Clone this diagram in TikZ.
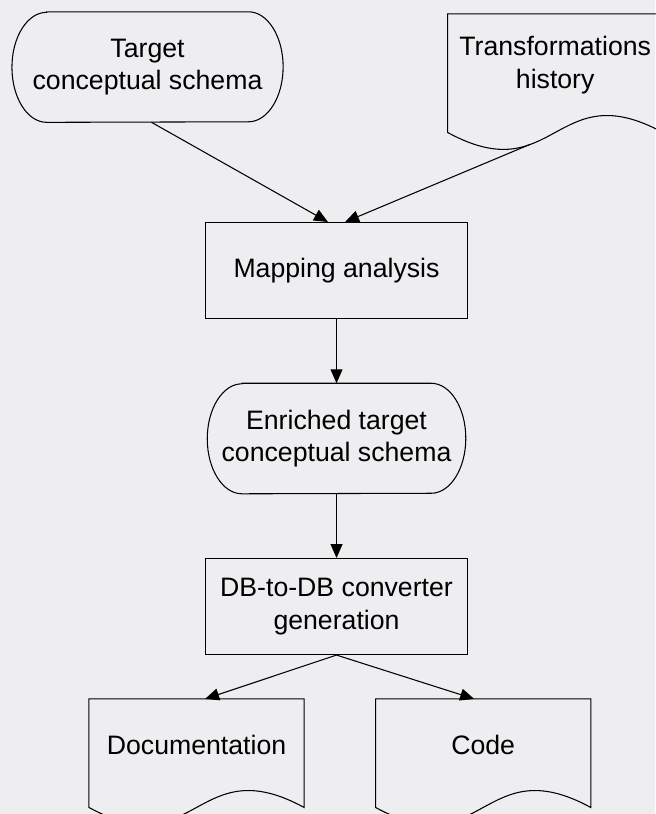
\documentclass[tikz,border=0pt]{standalone}
\usepackage{fontspec}
\setmainfont{Liberation Sans}
\usepackage{tikz}
\usetikzlibrary{arrows.meta}
\definecolor{paper}{RGB}{238,238,241}
\tikzstyle{process}  = [rectangle, minimum width=197pt, minimum height=72pt, align=center, draw=black, line width=0.8pt]
\tikzstyle{terminal} = [rectangle, minimum height=82.5pt, align=center]
\tikzstyle{document} = [rectangle, minimum width=161pt, minimum height=69pt, align=center]
\tikzstyle{arrow}    = [line width=0.8pt, ->, >={Triangle[length=10.5pt, width=9pt]}]
% outline of a terminal node, with elliptic ends
\newcommand{\stadiumframe}[1]{%
  \draw [line width=0.8pt] ([xshift=26pt]#1.north west) -- ([xshift=-26pt]#1.north east)
    arc [start angle=90, end angle=-90, x radius=26pt, y radius=41.25pt]
    -- ([xshift=26pt]#1.south west)
    arc [start angle=270, end angle=90, x radius=26pt, y radius=41.25pt] -- cycle;}
% outline of a document node, with wavy bottom
\newcommand{\docframe}[1]{%
  \draw [line width=0.8pt] (#1.north west) -- (#1.north east) -- ([yshift=-12pt]#1.south east)
    .. controls ([yshift=32pt]#1.south) and ([yshift=-56pt]#1.south) .. ([yshift=-12pt]#1.south west) -- cycle;}

\begin{document}
\begin{tikzpicture}[node distance=126pt, font=\fontsize{20}{24.5}\selectfont]
    \fill [paper] (-252.4pt, 202.9pt) rectangle (238.9pt, -407.6pt);
    \useasboundingbox (-252.4pt, 202.9pt) rectangle (238.9pt, -407.6pt);

    \node (map)    [process] {Mapping analysis};
    \node (enrich) [terminal, minimum width=193.5pt, below of=map] {Enriched target\\conceptual schema};
    \node (conv)   [process, below of=enrich] {DB-to-DB converter\\generation};

    \node (target) [terminal, minimum width=203pt, above of=map, xshift=-141.75pt, yshift=26.6pt] {Target\\conceptual schema};
    \node (trans)  [document, minimum height=76.5pt, above of=map, xshift=164pt, yshift=28pt] {Transformations\\history};

    \node (doc)  [document, below of=conv, xshift=-105pt, yshift=22pt] {Documentation};
    \node (code) [document, below of=conv, xshift=110pt, yshift=22pt] {Code};

    \stadiumframe{target}
    \stadiumframe{enrich}
    \docframe{trans}
    \docframe{doc}
    \docframe{code}

    \coordinate (trans-out) at ([xshift=-19pt, yshift=-21pt]trans.south);

    \draw [arrow] ([xshift=3pt]target.south) -- ([xshift=-6.4pt]map.north);
    \draw [arrow] (trans-out) -- ([xshift=6.4pt]map.north);
    \draw [arrow] (map) -- (enrich);
    \draw [arrow] (enrich) -- (conv);
    \draw [arrow] (conv.south) -- ([xshift=6.4pt]doc.north);
    \draw [arrow] (conv.south) -- ([xshift=-6.75pt]code.north);

  \end{tikzpicture}
\end{document}
